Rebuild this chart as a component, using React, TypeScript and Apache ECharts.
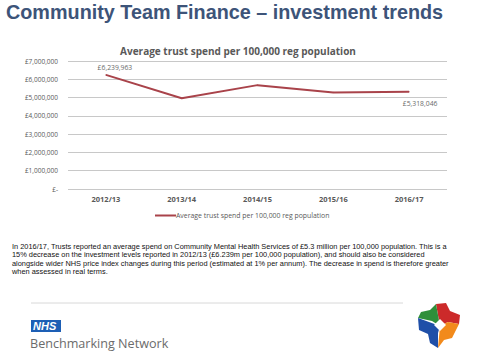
import React, { useEffect, useRef } from "react";
import * as echarts from "echarts";

const categories = ["2012/13", "2013/14", "2014/15", "2015/16", "2016/17"];
const spend = [6239963, 4960000, 5680000, 5280000, 5318046];
const seriesName = "Average trust spend per 100,000 reg population";
const yTicks = [0, 1000000, 2000000, 3000000, 4000000, 5000000, 6000000, 7000000];
const headline = "Community Team Finance \u2013 investment trends";
const paragraph = [
  "In 2016/17, Trusts reported an average spend on Community Mental Health Services of \u00a35.3 million per 100,000 population. This is a",
  "15% decrease on the investment levels reported in 2012/13 (\u00a36.239m per 100,000 population), and should also be considered",
  "alongside wider NHS price index changes during this period (estimated at 1% per annum). The decrease in spend is therefore greater",
  "when assessed in real terms.",
];

const fmtMoney = (v: number) =>
  v === 0 ? "\u00a3-" : "\u00a3" + Math.round(v).toLocaleString("en-GB");

export default function App() {
  const ref = useRef<HTMLDivElement>(null);
  useEffect(() => {
    if (!ref.current) return;
    const chart = echarts.init(ref.current, null, { renderer: "svg" });
    const last = spend.length - 1;
    chart.setOption({
      animation: false,
      backgroundColor: "#ffffff",
      title: {
        text: "Average trust spend per 100,000 reg population",
        left: 233,
        textAlign: "center",
        top: 41,
        textStyle: { fontSize: 10, fontWeight: "bold", color: "#595959", fontFamily: "Open Sans" },
      },
      grid: { left: 68, right: 33, top: 61, bottom: 172 },
      xAxis: {
        type: "category",
        data: categories,
        axisLine: { show: false },
        axisTick: { show: false },
        axisLabel: { fontSize: 7.5, fontWeight: "bold", color: "#595959", margin: 6, fontFamily: "Open Sans" },
      },
      yAxis: {
        type: "value",
        min: yTicks[0],
        max: yTicks[yTicks.length - 1],
        interval: 1000000,
        axisLine: { show: false },
        axisTick: { show: false },
        axisLabel: {
          fontSize: 6.5,
          color: "#595959",
          margin: 10,
          fontFamily: "Open Sans",
          formatter: (v: number) => fmtMoney(v),
        },
        splitLine: { lineStyle: { color: "#c8c8c8", width: 1 } },
      },
      legend: {
        top: 207,
        left: 150,
        data: [seriesName],
        itemWidth: 21,
        itemHeight: 2,
        itemGap: 0,
        icon: "rect",
        textStyle: { fontSize: 6.9, color: "#595959", fontFamily: "Open Sans", padding: [0, 0, 0, -5] },
      },
      series: [
        {
          name: seriesName,
          type: "line",
          data: spend.map((v, i) => ({
            value: v,
            label:
              i === 0
                ? { show: true, position: "top", distance: 3, offset: [9, 0] }
                : i === last
                ? { show: true, position: "bottom", offset: [11, 3] }
                : { show: false },
          })),
          symbol: "circle",
          symbolSize: 1,
          showSymbol: true,
          lineStyle: { color: "#a9434a", width: 2 },
          itemStyle: { color: "#a9434a" },
          label: {
            fontSize: 6.8,
            color: "#6a6a6a",
            fontFamily: "Open Sans",
            formatter: (p: any) => fmtMoney(p.value),
          },
        },
      ],
      graphic: [
        {
          type: "text",
          left: 6,
          top: 2,
          style: {
            text: headline,
            fontSize: 19.8,
            fontWeight: "bold",
            fill: "#3d5479",
            fontFamily: "Liberation Sans",
          },
        },
        {
          type: "text",
          left: 12,
          top: 242,
          style: {
            text: paragraph.join("\n"),
            fontSize: 7.4,
            lineHeight: 8.4,
            fill: "#111111",
            fontFamily: "Liberation Sans",
          },
        },
        {
          type: "line",
          shape: { x1: 31, y1: 303, x2: 403, y2: 303 },
          style: { stroke: "#d8d8d8", lineWidth: 1 },
        },
        {
          type: "rect",
          shape: { x: 31, y: 320, width: 30, height: 12 },
          style: { fill: "#1d5fb5" },
        },
        {
          type: "text",
          left: 33,
          top: 320.5,
          style: {
            text: "NHS",
            fontSize: 11,
            fontWeight: "bold",
            fontStyle: "italic",
            fill: "#ffffff",
            fontFamily: "Liberation Sans",
          },
        },
        {
          type: "text",
          left: 30,
          top: 337,
          style: {
            text: "Benchmarking Network",
            fontSize: 12.6,
            fill: "#6b6b6b",
            fontFamily: "Open Sans",
          },
        },
        {
          type: "polygon",
          shape: { points: [[440, 326], [436, 304], [446, 303], [450, 311], [460, 315], [459, 324], [448, 322]] },
          style: { fill: "#cc2a2a" },
        },
        {
          type: "polygon",
          shape: { points: [[440, 326], [436, 304], [430, 310], [421, 312], [418, 318], [432, 321]] },
          style: { fill: "#2f8f3a" },
        },
        {
          type: "polygon",
          shape: { points: [[440, 326], [418, 318], [419, 330], [428, 334], [430, 343], [438, 348], [438, 333]] },
          style: { fill: "#1f4fa8" },
        },
        {
          type: "polygon",
          shape: { points: [[440, 326], [438, 348], [444, 340], [452, 338], [459, 324], [448, 322]] },
          style: { fill: "#f28a1c" },
        },
        {
          type: "polygon",
          shape: { points: [[440, 319], [446, 325], [440, 331], [434, 325]] },
          style: { fill: "#ffffff" },
        },
      ],
    });
    return () => chart.dispose();
  }, []);
  return (
    <div
      ref={ref}
      style={{ position: "fixed", left: 0, top: 0, width: 480, height: 361 }}
    />
  );
}
